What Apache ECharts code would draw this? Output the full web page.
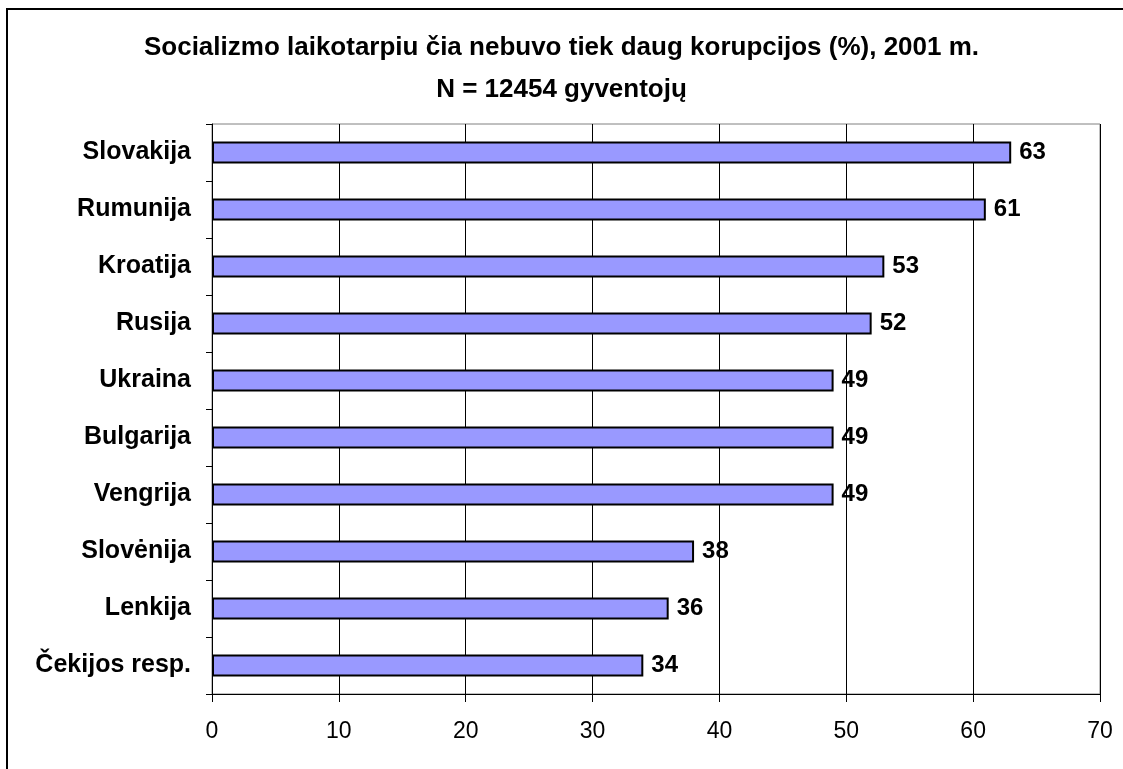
<!DOCTYPE html>
<html>
<head>
<meta charset="utf-8">
<script src="https://cdn.jsdelivr.net/npm/echarts@6/dist/echarts.min.js"></script>
<style>
  html, body { margin: 0; padding: 0; background: #fff; }
  #chart { width: 1123px; height: 769px; }
</style>
</head>
<body>
<div id="chart"></div>
<script>
var titleLines = ['Socializmo laikotarpiu čia nebuvo tiek daug korupcijos (%), 2001 m.', 'N = 12454 gyventojų'];
var countries = ['Slovakija', 'Rumunija', 'Kroatija', 'Rusija', 'Ukraina', 'Bulgarija', 'Vengrija', 'Slovėnija', 'Lenkija', 'Čekijos resp.'];
var values = [63, 61, 53, 52, 49, 49, 49, 38, 36, 34];
var xTicks = [0, 10, 20, 30, 40, 50, 60, 70];

var font = 'Arial, "Liberation Sans", sans-serif';

var chart = echarts.init(document.getElementById('chart'));

var option = {
    backgroundColor: '#fff',
    animation: false,
    title: {
        text: titleLines.join('\n'),
        left: 'center',
        top: 22,
        textStyle: {
            fontFamily: font,
            fontSize: 26,
            fontWeight: 'bold',
            color: '#000',
            lineHeight: 42
        }
    },
    // outer chart frame (only left and top edges fall inside the picture)
    graphic: [{
        type: 'rect',
        shape: { x: 7, y: 9, width: 1300, height: 900 },
        style: { fill: 'none', stroke: '#000', lineWidth: 2 },
        silent: true
    }],
    grid: {
        left: 212,
        right: 23,
        top: 124,
        bottom: 75,
        show: true,
        borderColor: '#808080',
        borderWidth: 1
    },
    xAxis: {
        type: 'value',
        min: xTicks[0],
        max: xTicks[xTicks.length - 1],
        interval: 10,
        axisLine: { show: true, lineStyle: { color: '#000', width: 1 } },
        axisTick: { show: true, length: 8, lineStyle: { color: '#000' } },
        splitLine: { show: true, lineStyle: { color: '#000', width: 1 } },
        axisLabel: {
            margin: 26,
            fontFamily: font,
            fontSize: 23,
            color: '#000'
        }
    },
    yAxis: {
        type: 'category',
        inverse: true,
        data: countries,
        axisLine: { show: true, lineStyle: { color: '#000', width: 1 } },
        axisTick: { show: true, length: 6, alignWithLabel: false, lineStyle: { color: '#000' } },
        axisLabel: {
            margin: 21,
            fontFamily: font,
            fontSize: 25,
            fontWeight: 'bold',
            color: '#000'
        }
    },
    series: [{
        type: 'bar',
        data: values,
        barCategoryGap: '61%',
        itemStyle: {
            color: '#9999FF',
            borderColor: '#000',
            borderWidth: 2
        },
        label: {
            show: true,
            position: 'right',
            distance: 8,
            fontFamily: font,
            fontSize: 24,
            fontWeight: 'bold',
            color: '#000'
        }
    }]
};

chart.setOption(option);
</script>
</body>
</html>
